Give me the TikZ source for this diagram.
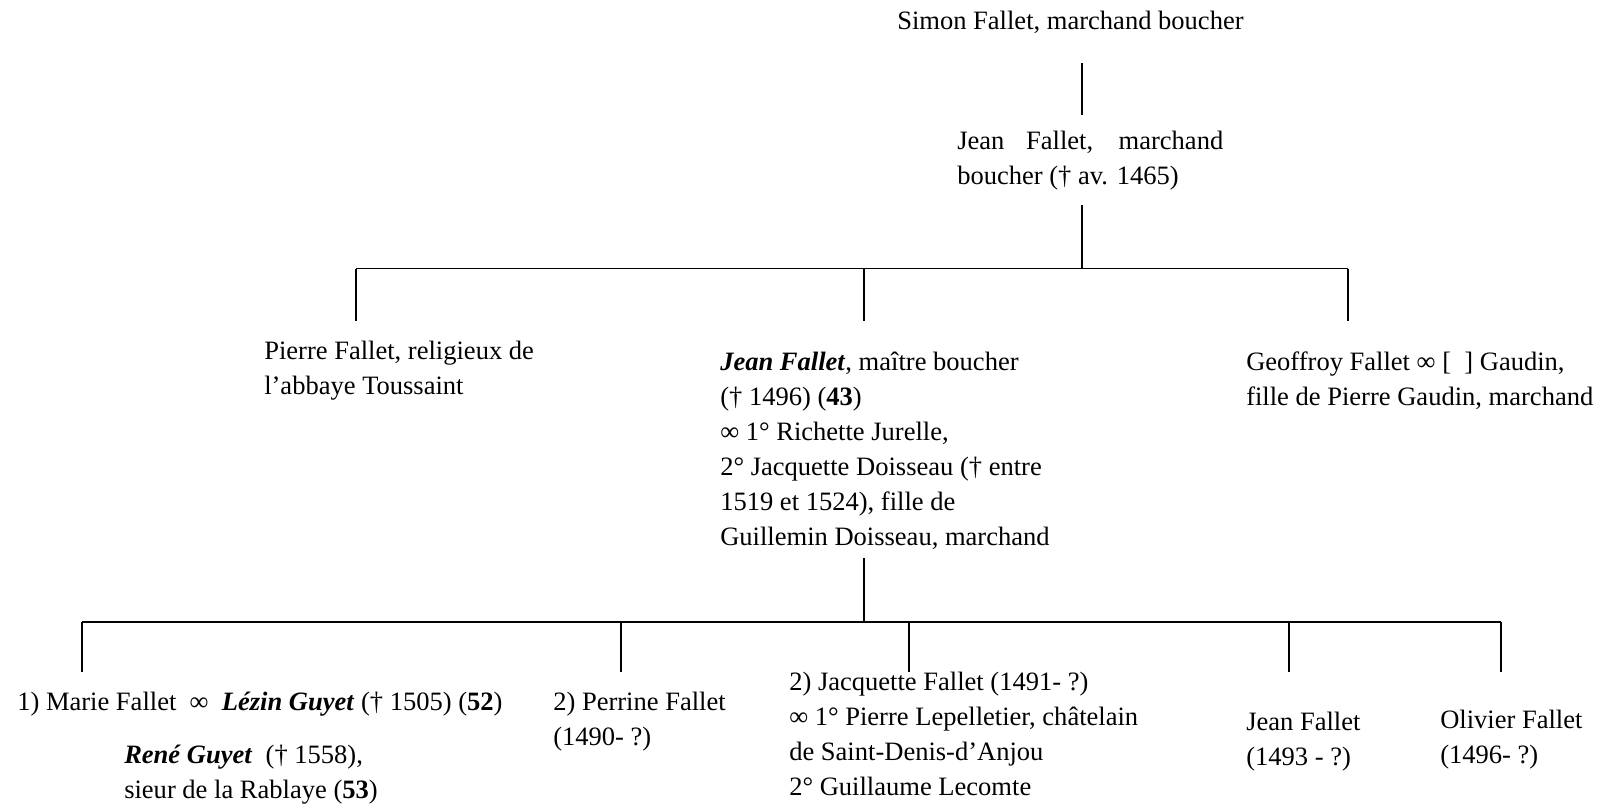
\documentclass[tikz,border=0pt]{standalone}
\usepackage{fontspec}
\setmainfont{Liberation Serif}
\usetikzlibrary{positioning}

\tikzset{
    person/.style={anchor=north west, inner sep=0pt, align=left, font=\fontsize{19.9}{26.25}\selectfont},
    link/.style={line width=1.1pt}
}

\begin{document}
\begin{tikzpicture}[x=0.75pt, y=-0.75pt]
    \useasboundingbox (0,0) rectangle (1607,811);

    % Generation 1 and 2
    \node[person] (simon) at (897,4.5) {\strut Simon Fallet, marchand boucher};
    \node[person] (jeanA) at (957,125) {\strut\makebox[199.5pt][s]{Jean Fallet, marchand}\\boucher († av. 1465)};

    % Generation 3
    \node[person] (pierre) at (264,334.5) {\strut Pierre Fallet, religieux de\\l’abbaye Toussaint};
    \node[person] (jeanB) at (720,346) {\strut\textbf{\textit{Jean Fallet}}, maître boucher\\(† 1496) (\textbf{43})\\∞ 1° Richette Jurelle,\\2° Jacquette Doisseau († entre\\1519 et 1524), fille de\\Guillemin Doisseau, marchand};
    \node[person] (geoffroy) at (1246,346) {\strut Geoffroy Fallet ∞ [\ \ ] Gaudin,\\fille de Pierre Gaudin, marchand};

    % Generation 4
    \node[person] (marie) at (17,686) {\strut 1) Marie Fallet\ \ ∞\ \ \textbf{\textit{Lézin Guyet}} († 1505) (\textbf{52})};
    \node[person] (rene) at (124,739) {\strut\textbf{\textit{René Guyet}}\ \ († 1558),\\sieur de la Rablaye (\textbf{53})};
    \node[person] (perrine) at (553,686) {\strut 2) Perrine Fallet\\(1490- ?)};
    \node[person] (jacquette) at (789,666) {\strut 2) Jacquette Fallet (1491- ?)\\∞ 1° Pierre Lepelletier, châtelain\\de Saint-Denis-d’Anjou\\2° Guillaume Lecomte};
    \node[person] (jeanC) at (1246,706) {\strut Jean Fallet\\(1493 - ?)};
    \node[person] (olivier) at (1440,704) {\strut Olivier Fallet\\(1496- ?)};

    % Junctions
    \coordinate (simonLink) at (1082,63);
    \coordinate (jeanAlink) at (1082,205);
    \coordinate (bar1w) at (356,268.5);
    \coordinate (bar1e) at (1348,268.5);
    \coordinate (jeanBlink) at (864,558);
    \coordinate (bar2w) at (82,622);
    \coordinate (bar2e) at (1501,622);

    % Lines
    \draw[link] (simonLink) -- ++(0,52);
    \draw[link] (jeanAlink) -- (jeanAlink |- bar1w);
    \draw[link] (bar1w) -- (bar1e);
    \draw[link] (bar1w) -- ++(0,52.5);
    \draw[link] (bar1w -| jeanBlink) -- ++(0,52.5);
    \draw[link] (bar1e) -- ++(0,52.5);
    \draw[link] (jeanBlink) -- (jeanBlink |- bar2w);
    \draw[link] (bar2w) -- (bar2e);
    \draw[link] (bar2w) -- ++(0,50);
    \draw[link] ([xshift=539*0.75pt]bar2w) -- ++(0,50);
    \draw[link] ([xshift=827*0.75pt]bar2w) -- ++(0,50);
    \draw[link] ([xshift=1207*0.75pt]bar2w) -- ++(0,50);
    \draw[link] (bar2e) -- ++(0,50);
\end{tikzpicture}
\end{document}
